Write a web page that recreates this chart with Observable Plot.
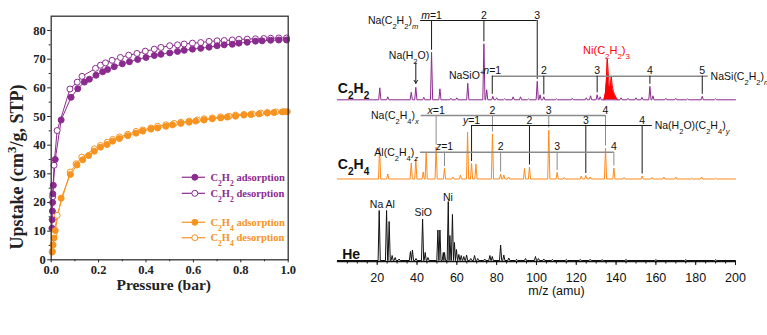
<!DOCTYPE html>
<html><head><meta charset="utf-8">
<script src="https://cdn.jsdelivr.net/npm/d3@7"></script>
<script src="https://cdn.jsdelivr.net/npm/@observablehq/plot@0.6"></script>
<style>
html,body{margin:0;padding:0;background:#fff;}
#wrap{position:relative;width:767px;height:335px;overflow:hidden;background:#fff;}
#left{position:absolute;left:0;top:0;width:330px;height:300px;}
#right{position:absolute;left:330px;top:0;width:437px;height:335px;}
svg{overflow:visible;}
</style></head><body>
<div id="wrap"><div id="left"></div><div id="right"></div></div>
<script>
// ================= LEFT PANEL DATA (pressure bar, uptake cm3/g) =================
const c2h2Ads = [[0.003,11],[0.004,14],[0.005,17],[0.006,20],[0.007,23],[0.009,26],[0.017,35],[0.042,48.8],[0.084,56.7],[0.112,59.7],[0.14,62],[0.161,63],[0.189,64.4],[0.217,65.6],[0.238,66.4],[0.266,67.4],[0.3,68.4],[0.33,69.1],[0.365,69.9],[0.4,70.6],[0.435,71.3],[0.463,71.7],[0.5,72.2],[0.533,72.7],[0.561,73.1],[0.596,73.5],[0.631,73.8],[0.666,74.2],[0.7,74.7],[0.73,75],[0.764,75.2],[0.792,75.6],[0.827,75.9],[0.862,76.3],[0.89,76.4],[0.926,76.6],[0.96,76.7],[0.993,76.7]];
const c2h2Des = [[0.006,22],[0.012,33],[0.025,45.1],[0.079,59.6],[0.11,62],[0.13,64],[0.187,66.8],[0.208,67.9],[0.229,68.7],[0.257,69.6],[0.292,70.6],[0.327,71.4],[0.362,72],[0.397,72.8],[0.435,73.5],[0.463,74.1],[0.5,74.7],[0.533,75],[0.561,75.3],[0.596,75.6],[0.631,75.8],[0.666,76.2],[0.7,76.4],[0.73,76.5],[0.764,76.7],[0.792,76.9],[0.827,77],[0.862,77.1],[0.897,77.2],[0.926,77.3],[0.96,77.4],[0.993,77.4]];
const c2h4Ads = [[0.004,2.7],[0.008,5.2],[0.012,7.6],[0.017,10.2],[0.042,21.5],[0.081,29.8],[0.109,33.1],[0.133,34.9],[0.158,36.4],[0.182,37.9],[0.208,39.3],[0.236,40.2],[0.259,41.4],[0.288,42.3],[0.323,43.3],[0.358,44.2],[0.386,44.9],[0.421,45.6],[0.449,46],[0.484,46.6],[0.512,47.1],[0.547,47.6],[0.582,48],[0.61,48.4],[0.645,48.8],[0.68,49.2],[0.715,49.5],[0.743,49.8],[0.778,50.1],[0.813,50.5],[0.842,50.7],[0.877,50.9],[0.912,51.2],[0.94,51.4],[0.975,51.6],[0.996,51.7]];
const c2h4Des = [[0.005,3],[0.012,9],[0.025,15.5],[0.08,30.6],[0.105,33.5],[0.129,35.8],[0.182,38.7],[0.208,39.9],[0.236,41],[0.259,42],[0.288,42.9],[0.323,43.8],[0.358,44.8],[0.386,45.3],[0.421,46],[0.449,46.6],[0.484,47.1],[0.519,47.6],[0.547,48],[0.582,48.4],[0.617,48.8],[0.645,49.2],[0.68,49.5],[0.715,49.9],[0.75,50.1],[0.778,50.5],[0.813,50.7],[0.849,50.9],[0.884,51.2],[0.912,51.4],[0.947,51.6],[0.982,51.7]];
const seriesNames = ["C_{2}H_{2} adsorption","C_{2}H_{2} desorption","C_{2}H_{4} adsorption","C_{2}H_{4} desorption"];
const pressureTicks = [0,0.2,0.4,0.6,0.8,1.0];
const pressureMinor = [0.1,0.3,0.5,0.7,0.9];
const uptakeTicks = [0,10,20,30,40,50,60,70,80];
const uptakeMinor = [5,15,25,35,45,55,65,75];

// ================= RIGHT PANEL DATA (m/z, peak height) =================
const c2h2Peaks = [[21.3,12],[25.3,3],[37.1,7.5],[39.4,12.5],[43.4,2.5],[47.3,47.5],[51.5,11],[57,1.5],[60,2],[65.5,16.5],[73.6,56],[75,10],[78.1,3.5],[80,2],[84,1],[88.3,3],[92,3],[96,1],[100.4,18.5],[101.8,5],[103.7,3],[110,1],[118,1.5],[125,2],[127.2,4],[130.5,5],[132,3],[142.5,2],[146,1.5],[150,2],[153,2.5],[157,13.5],[158.5,4],[165,1.5],[170,1.5],[176,1],[183.3,3.5],[190,1]];
const niCluster = [[133.9,0],[134.6,6],[135.1,18],[135.6,41],[136.1,26],[136.6,14],[137.1,12],[137.6,23],[138.1,14],[138.7,8],[139.3,5],[140,2.5],[140.6,0]];
const c2h4Peaks = [[21.2,32],[25.3,5],[37.1,16],[39.4,20],[43.1,7],[44.6,27],[49.6,32],[53.8,10.5],[58,2],[61.8,4],[65.4,47],[67.4,15.5],[69.6,15],[77.9,45],[82,5],[83.6,4],[86,2],[94,10.5],[96.5,12],[106.2,49],[110.4,6.5],[114,1.5],[122.5,3],[124.8,3.5],[127,2],[134.7,31],[138.9,11],[144,1.5],[153.1,3],[158,1.5],[164,2],[170,2],[178,1],[183,2],[190,1]];
const hePeaks = [[21,50],[24.7,50],[26,39],[27.5,5],[29,3],[31,1.5],[36.7,9],[37.7,10.5],[39.5,2],[42.8,41.5],[44.1,8],[45.5,3],[50.5,30.5],[51.5,30.5],[53.2,8],[53.8,8],[55.7,59],[56.5,25],[57.8,46],[58.8,18],[59.8,11],[61,6],[62.2,5],[63.5,4],[64.9,5.5],[67,2],[68.9,5],[70.5,2],[74,1.5],[76.6,5],[77.8,4],[82,15.5],[83.6,5.5],[86.1,2.5],[90,1.2],[94.5,2],[99.5,4],[101,2],[103.7,1.5],[108,1],[115,1],[122,1],[127,1.2],[133,0.8],[145,1],[160,0.8],[175,0.8],[190,0.8]];
const mzTicks = [20,40,60,80,100,120,140,160,180,200];
const mzMinor = d3.range(5, 200, 5);
const mSeries = [47.3,73.6,100.4], mLabels = ["*m*=1","2","3"];
const nSeries = [77.8,103.7,130.5,157,183.3], nLabels = ["*n*=1","2","3","4","5"];
const xSeries = [49.6,77.9,106.2,134.7], xLabels = ["*x*=1","2","3","4"];
const ySeries = [67.4,96.5,124.8,153.1], yLabels = ["*y*=1","2","3","4"];
const zSeries = [53.8,82,110.4,138.9], zLabels = ["*z*=1","2","3","4"];
const naH2OMz = 39.4, naSiOMz = 65.5, niMz = 135.6;

// ================= helpers =================
const purple = "#8b2b8f", orange = "#f7931e", specOrange = "#ff8a1c";
function richText(svg) {
  const ns = "http://www.w3.org/2000/svg";
  function build(el) {
    const s = el.textContent;
    if (!/[_^*]/.test(s)) return;
    const segs = []; let shift = null, italic = false, buf = "";
    const flush = () => { if (buf) segs.push({text: buf, shift, italic}); buf = ""; };
    for (let i = 0; i < s.length; i++) {
      const c = s[i];
      if ((c === "_" || c === "^") && s[i+1] === "{") { flush(); shift = c === "_" ? "sub" : "super"; i++; continue; }
      if (c === "}" && shift) { flush(); shift = null; continue; }
      if (c === "*") { flush(); italic = !italic; continue; }
      buf += c;
    }
    flush();
    el.textContent = "";
    segs.forEach(g => {
      const ts = document.createElementNS(ns, "tspan");
      ts.textContent = g.text;
      if (g.italic) ts.setAttribute("font-style", "italic");
      if (g.shift) { ts.setAttribute("baseline-shift", g.shift); ts.setAttribute("font-size", "72%"); }
      el.appendChild(ts);
    });
  }
  svg.querySelectorAll("text").forEach(t => {
    const spans = t.querySelectorAll("tspan");
    if (spans.length) spans.forEach(build); else build(t);
  });
}

// ================= LEFT PANEL =================
const legendY = [28.8, 23.2, 13.1, 7.7];
const series = [
  {data: c2h2Des, color: purple, filled: false},
  {data: c2h4Des, color: orange, filled: false},
  {data: c2h2Ads, color: purple, filled: true},
  {data: c2h4Ads, color: orange, filled: true}
];
const legendMarks = seriesNames.flatMap((name, i) => {
  const color = i < 2 ? purple : orange, filled = i % 2 === 0, y = legendY[i];
  return [
    Plot.ruleY([y], {x1: 0.553, x2: 0.651, stroke: color, strokeWidth: 1.2}),
    Plot.dot([y], {x: 0.606, y: d => d, r: 3, fill: filled ? color : "white", stroke: color, strokeWidth: 1}),
    Plot.text([name], {x: 0.672, y, textAnchor: "start", lineAnchor: "middle", fill: color, fontSize: 10.5})
  ];
});
const left = Plot.plot({
  width: 330, height: 300,
  marginLeft: 50.7, marginRight: 42.3, marginTop: 15.7, marginBottom: 40.7,
  x: {domain: [0, 1], axis: null}, y: {domain: [0, 85], axis: null},
  style: {fontFamily: "'Liberation Serif', 'DejaVu Serif', serif", fontWeight: "bold", fontSize: "12.5px", color: "#222", background: "white", overflow: "visible"},
  marks: [
    Plot.axisY(uptakeTicks, {tickSize: 3.5, tickPadding: 2, label: null}),
    Plot.axisY(uptakeMinor, {tickSize: 2, fill: "none", label: null}),
    Plot.axisX(pressureTicks, {tickSize: 3, tickPadding: 2.5, tickFormat: d3.format(".1f"), label: null}),
    Plot.axisX(pressureMinor, {tickSize: 2, fill: "none", label: null}),
    ...series.map(s => Plot.line(s.data, {x: d => d[0], y: d => d[1], stroke: s.color, strokeWidth: 1})),
    ...series.map(s => Plot.dot(s.data, {x: d => d[0], y: d => d[1], r: 3, fill: s.filled ? s.color : "white", stroke: s.color, strokeWidth: 1})),
    Plot.frame({stroke: "#333", strokeWidth: 1.3}),
    ...legendMarks,
    Plot.text(["Upstake (cm^{3}/g, STP)"], {frameAnchor: "left", dx: -34, dy: 29, rotate: -90, textAnchor: "middle", lineAnchor: "middle", fontSize: 18}),
    Plot.text(["Pressure (bar)"], {frameAnchor: "bottom", dx: -6, dy: 25.7, textAnchor: "middle", lineAnchor: "middle", fontSize: 15.5})
  ]
});
richText(left);
document.getElementById("left").appendChild(left);

// ================= RIGHT PANEL =================
const B2 = 161.7, B4 = 82.5, BHe = 1;
function tracePoints(peaks, offset, w = 0.55) {
  const p = [...peaks].sort((a, b) => a[0] - b[0]);
  const pts = [[0, offset]];
  p.forEach(([m, h], i) => {
    const lo = i ? Math.max(m - w, (p[i-1][0] + m) / 2) : m - w;
    const hi = i < p.length - 1 ? Math.min(m + w, (m + p[i+1][0]) / 2) : m + w;
    pts.push([lo, offset], [m, offset + h], [hi, offset]);
  });
  pts.push([200, offset]);
  return pts;
}
function peakTop(peaks, base, m) {
  const pk = peaks.reduce((a, b) => Math.abs(b[0] - m) < Math.abs(a[0] - m) ? b : a);
  return base + pk[1];
}
function bracket({mz, labels, peaks, base, level, from, to, name, side, hStroke, hWidth, dStroke}) {
  const drops = mz.map((m, i) => ({x: m, y2: peakTop(peaks, base, m) + 2, label: labels[i]}));
  const x1 = from ?? mz[0], x2 = to ?? mz[mz.length - 1];
  return [
    Plot.ruleY([level], {x1, x2, stroke: hStroke, strokeWidth: hWidth}),
    Plot.ruleX(drops, {x: "x", y1: level, y2: "y2", stroke: dStroke, strokeWidth: 1}),
    Plot.text(drops, {x: "x", y: level, text: "label", lineAnchor: "bottom", dy: -2, fontSize: 10.5}),
    Plot.text([name], {x: side === "left" ? x1 - 1.2 : x2 + 1.2, y: level, textAnchor: side === "left" ? "end" : "start", lineAnchor: "middle", fontSize: 10.5})
  ];
}
const dark = "#1a1a1a", grey = "#8a8a8a";
const right = Plot.plot({
  width: 437, height: 335,
  marginLeft: 6.9, marginRight: 32, marginTop: 0, marginBottom: 74,
  x: {domain: [0, 200], axis: null}, y: {domain: [0, 261], axis: null},
  style: {fontFamily: "'Liberation Sans', Arial, sans-serif", fontSize: "10.5px", color: "#111", background: "white", overflow: "visible"},
  marks: [
    // traces
    Plot.line(tracePoints(c2h2Peaks, B2), {x: d => d[0], y: d => d[1], stroke: purple, strokeWidth: 1}),
    Plot.areaY(niCluster, {x: d => d[0], y1: B2, y2: d => B2 + d[1], fill: "#ff0000"}),
    Plot.line(niCluster, {x: d => d[0], y: d => B2 + d[1], stroke: "#ff0000", strokeWidth: 1}),
    Plot.line(tracePoints(c2h4Peaks, B4), {x: d => d[0], y: d => d[1], stroke: specOrange, strokeWidth: 1}),
    Plot.line(tracePoints(hePeaks, BHe), {x: d => d[0], y: d => d[1], stroke: "#111", strokeWidth: 1}),
    // axis
    Plot.ruleY([0], {stroke: "#111", strokeWidth: 1.5}),
    Plot.axisX(mzTicks, {tickSize: 4, tickPadding: 7.5, fontSize: 12.5, label: null}),
    Plot.axisX(mzMinor, {tickSize: 2.5, fill: "none", label: null}),
    Plot.text(["m/z (amu)"], {frameAnchor: "bottom", dx: 20, dy: 29, textAnchor: "middle", lineAnchor: "middle", fontSize: 12.5}),
    // trace names
    Plot.text(["C_{2}H_{2}"], {x: 0.2, y: B2 + 6.8, textAnchor: "start", lineAnchor: "bottom", fontSize: 14, fontWeight: "bold"}),
    Plot.text(["C_{2}H_{4}"], {x: 0.2, y: B4 + 10.2, textAnchor: "start", lineAnchor: "bottom", fontSize: 14, fontWeight: "bold"}),
    Plot.text(["He"], {x: 2.4, y: BHe + 1.7, textAnchor: "start", lineAnchor: "bottom", fontSize: 14, fontWeight: "bold"}),
    // C2H2 annotations
    ...bracket({mz: mSeries, labels: mLabels, peaks: c2h2Peaks, base: B2, level: 241, from: 41.8, name: "Na(C_{2}H_{2})_{*m*}", side: "left", hStroke: dark, hWidth: 1, dStroke: dark}),
    ...bracket({mz: nSeries, labels: nLabels, peaks: c2h2Peaks, base: B2, level: 185.3, to: 186.3, name: "NaSi(C_{2}H_{2})_{*n*}", side: "right", hStroke: grey, hWidth: 1.6, dStroke: dark}),
    Plot.text(["Na(H_{2}O)"], {x: 36, y: 206, lineAnchor: "middle", fontSize: 10.5}),
    Plot.arrow([naH2OMz], {x1: d => d, x2: d => d, y1: 199, y2: peakTop(c2h2Peaks, B2, naH2OMz) + 4, stroke: dark, strokeWidth: 1, headLength: 5}),
    Plot.text(["NaSiO^{+}"], {x: naSiOMz - 0.6, y: 186, lineAnchor: "middle", fontSize: 10.5}),
    Plot.text(["Ni(C_{2}H_{2})_{3}"], {x: niMz - 0.4, y: 211, lineAnchor: "middle", fontSize: 11, fill: "#ff0000"}),
    // C2H4 annotations
    ...bracket({mz: xSeries, labels: xLabels, peaks: c2h4Peaks, base: B4, level: 146, from: 42.1, name: "Na(C_{2}H_{4})_{*x*}", side: "left", hStroke: grey, hWidth: 1.6, dStroke: grey}),
    ...bracket({mz: ySeries, labels: yLabels, peaks: c2h4Peaks, base: B4, level: 136, to: 158.2, name: "Na(H_{2}O)(C_{2}H_{4})_{*y*}", side: "right", hStroke: dark, hWidth: 1, dStroke: dark}),
    ...bracket({mz: zSeries, labels: zLabels, peaks: c2h4Peaks, base: B4, level: 109.3, from: 41.7, name: "Al(C_{2}H_{4})_{*z*}", side: "left", hStroke: grey, hWidth: 1.6, dStroke: grey}),
    // He annotations
    Plot.text(["Na Al"], {x: 22.6, y: 57, lineAnchor: "middle", fontSize: 10.5}),
    Plot.text(["SiO"], {x: 43.1, y: 48.7, lineAnchor: "middle", fontSize: 10.5}),
    Plot.text(["Ni"], {x: 55.5, y: 64.3, lineAnchor: "middle", fontSize: 10.5})
  ]
});
richText(right);
document.getElementById("right").appendChild(right);
</script></body></html>
